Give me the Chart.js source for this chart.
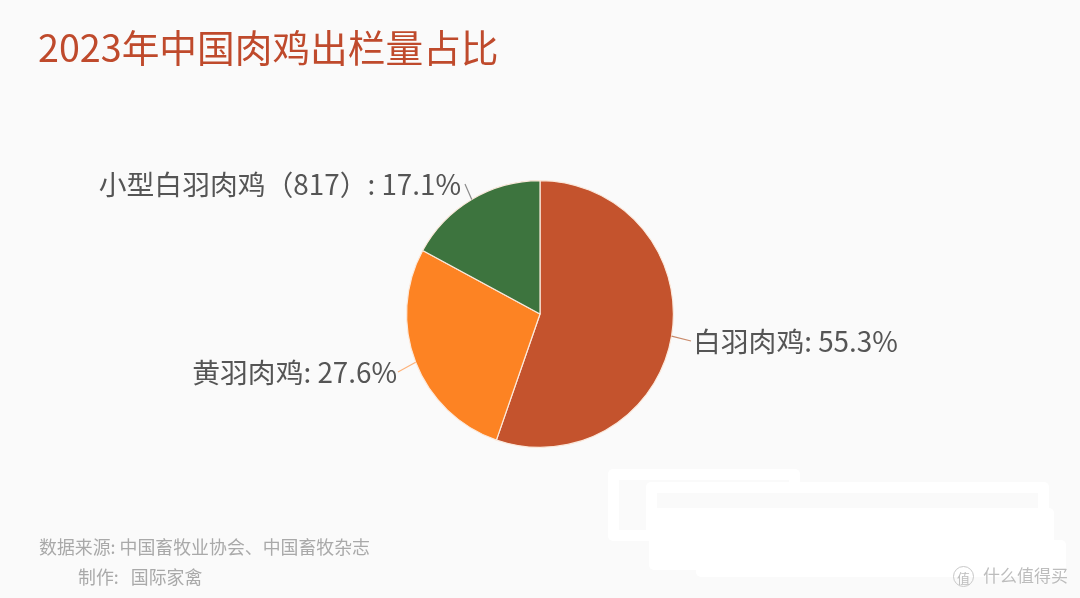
<!DOCTYPE html>
<html><head><meta charset="utf-8">
<script src="https://cdn.jsdelivr.net/npm/chart.js@4"></script>
<style>
html,body{margin:0;padding:0;background:#fafafa;overflow:hidden}
#wrap{position:relative;width:1080px;height:598px;background:#fafafa;font-family:"Noto Sans CJK SC","Noto Sans",sans-serif;filter:blur(0.5px)}
canvas{position:absolute;left:0;top:0}
.t{position:absolute;white-space:nowrap;line-height:1}
.w{position:absolute;background:#fff;border-radius:5px}
.h{position:absolute;background:#fafafa}
</style></head><body>
<div id="wrap">
<canvas id="c" width="1080" height="598"></canvas>
<div class="t" style="left:38px;top:27px;font-size:37.7px;color:#bf4a2c">2023年中国肉鸡出栏量占比</div>
<div class="t" style="left:39px;top:538px;font-size:17.9px;color:#a9a9a9">数据来源: 中国畜牧业协会、中国畜牧杂志</div>
<div class="t" style="left:78px;top:568px;font-size:17.9px;color:#a9a9a9">制作:&nbsp;&nbsp;&nbsp;国际家禽</div>
<div class="w" style="left:608px;top:469px;width:192px;height:72px"></div>
<div class="h" style="left:619px;top:480px;width:170px;height:50px"></div>
<div class="w" style="left:646px;top:482px;width:403px;height:60px"></div>
<div class="h" style="left:657px;top:493px;width:381px;height:15px"></div>
<div class="w" style="left:649px;top:508px;width:405px;height:62px"></div>
<div class="w" style="left:696px;top:540px;width:370px;height:37px"></div>
<div class="t" style="left:983px;top:566px;font-size:17px;color:#bdbdbd;text-shadow:0 0 2px #fff">什么值得买</div>
<div class="t" style="left:953px;top:566px;width:21px;height:21px;line-height:21px;text-align:center;border-radius:50%;border:1px solid #c8c8c8;box-sizing:border-box;font-size:13px;color:#bdbdbd">值</div>
</div>
<script>
const categories = ["白羽肉鸡", "黄羽肉鸡", "小型白羽肉鸡(817)"];
const shares = [55.3, 27.6, 17.1];
const labelTexts = ["白羽肉鸡: 55.3%", "黄羽肉鸡: 27.6%", "小型白羽肉鸡（817）: 17.1%"];
const colors = ["#c4532d", "#fd8323", "#3d743e"];
const lineColors = ["#c98a6a", "#fdb27a", "#8a8a8a"];

const pieLabels = {
  id: "pieLabels",
  afterDatasetsDraw(chart) {
    const ctx = chart.ctx;
    const arcs = chart.getDatasetMeta(0).data;
    const anchors = [
      {tx: 693, ty: 341, align: "left", ex: 691},
      {tx: 397, ty: 372, align: "right", ex: 398},
      {tx: 461, ty: 184, align: "right", ex: 465}
    ];
    arcs.forEach((arc, i) => {
      const mid = (arc.startAngle + arc.endAngle) / 2;
      const sx = arc.x + Math.cos(mid) * arc.outerRadius;
      const sy = arc.y + Math.sin(mid) * arc.outerRadius;
      const a = anchors[i];
      ctx.save();
      ctx.strokeStyle = lineColors[i];
      ctx.lineWidth = 1.2;
      ctx.beginPath();
      ctx.moveTo(sx, sy);
      ctx.lineTo(a.ex, a.ty);
      ctx.stroke();
      ctx.font = '27.8px "Noto Sans CJK SC"';
      ctx.fillStyle = "#555555";
      ctx.textAlign = a.align;
      ctx.textBaseline = "middle";
      ctx.fillText(labelTexts[i], a.tx, a.ty);
      ctx.restore();
    });
  }
};

new Chart(document.getElementById("c"), {
  type: "pie",
  data: {
    labels: categories,
    datasets: [{
      data: shares,
      backgroundColor: colors,
      borderColor: "#fbe9dc",
      borderWidth: 1.2
    }]
  },
  options: {
    responsive: false,
    animation: false,
    layout: {padding: {top: 180, bottom: 150, left: 406, right: 406}},
    plugins: {legend: {display: false}, title: {display: false}, tooltip: {enabled: false}}
  },
  plugins: [pieLabels]
});
</script>
</body></html>
